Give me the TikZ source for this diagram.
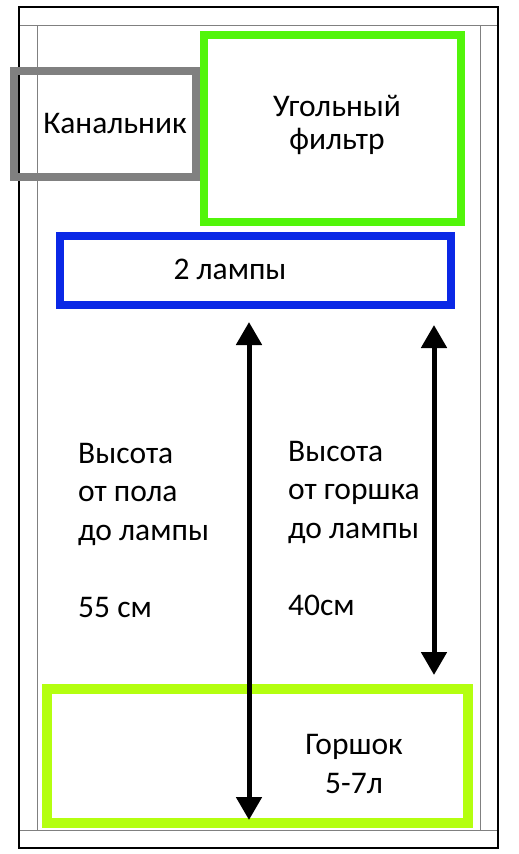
\documentclass[tikz,border=0pt]{standalone}
\usepackage{fontspec}
\setmainfont{Carlito}
\usepackage{tikz}
\usetikzlibrary{arrows.meta,positioning}
\definecolor{greyc}{HTML}{808080}
\definecolor{filterc}{HTML}{52F50A}
\definecolor{lampc}{HTML}{0A28E6}
\definecolor{potc}{HTML}{B4FF10}
\tikzset{
  ar/.style={{Triangle[length=23pt,width=25pt]}-{Triangle[length=23pt,width=25pt]},line width=5pt,black},
  box/.style={draw,inner sep=0pt,outer sep=0pt},
  lbl/.style={font=\fontsize{31.5}{38.5}\selectfont,inner sep=0pt}
}
\begin{document}
\begin{tikzpicture}[x=1pt,y=-1pt]
\useasboundingbox (0,0) rectangle (519,854);
% cabinet
\draw[greyc,line width=0.8pt] (19,25)--(498,25) (19,830)--(498,830) (37,25)--(37,830) (480,25)--(480,830);
\draw[line width=1.5pt] (19,7) rectangle (498,848);
% boxes
\node[box,draw=greyc,line width=8pt,minimum width=182pt,minimum height=106pt] (canal) at (105,124) {};
\node[box,draw=filterc,line width=8pt,minimum width=257pt,minimum height=187pt] (filter) at (332.5,128.5) {};
\node[box,draw=lampc,line width=8pt,minimum width=391pt,minimum height=69pt] (lamps) at (255.5,270.5) {};
\node[box,draw=potc,line width=10pt,minimum width=421pt,minimum height=134pt] (pot) at (257.5,756) {};
% labels (base = last line)
\node[lbl,anchor=base] (canaltxt) at (115,133) {Канальник};
\node[lbl,anchor=base,align=center,font=\fontsize{31.5}{33}\selectfont] (filtertxt) at (337,149) {Угольный\\фильтр};
\node[lbl,anchor=base] (lampstxt) at (230,279) {2 лампы};
\node[lbl,anchor=base,align=center] (pottxt) at (354,793) {Горшок\\5-7л};
\node[lbl,anchor=base west,align=left] (floortxt) at (78,617) {Высота\\от пола\\до лампы\\[38.5pt]55 см};
\node[lbl,anchor=base west,align=left] (pottotxt) at (288,615) {Высота\\от горшка\\до лампы\\[38.5pt]40см};
% heights
\coordinate (f1) at (249,322);
\coordinate (f2) at (249,820);
\coordinate (p1) at (434,325);
\coordinate (p2) at (434,675);
\draw[ar] (f1)--(f2);
\draw[ar] (p1)--(p2);
\end{tikzpicture}
\end{document}
